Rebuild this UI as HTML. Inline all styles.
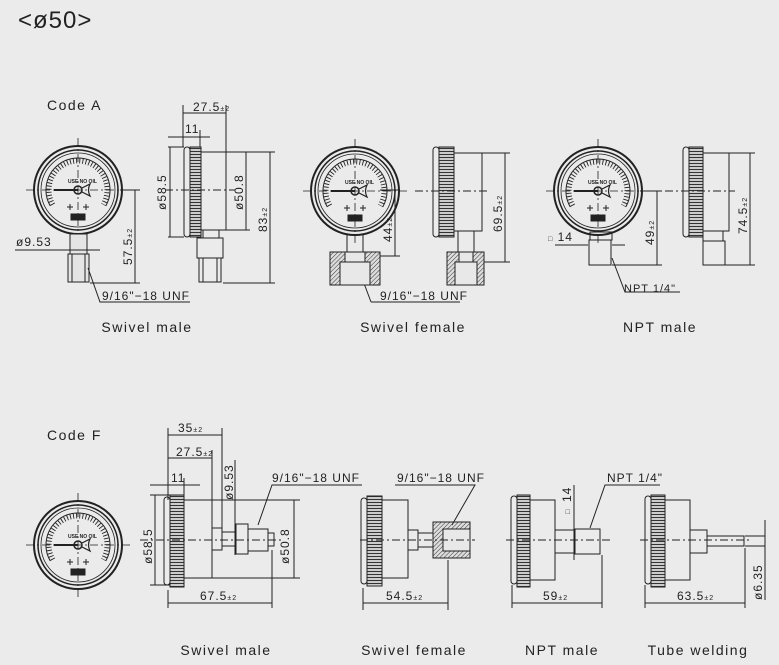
<!DOCTYPE html>
<html><head><meta charset="utf-8"><style>
body{margin:0;background:#ebebeb;}
svg{display:block;font-family:"Liberation Sans",sans-serif;}
text{fill:#222;}
</style></head><body>
<svg width="779" height="665" viewBox="0 0 779 665" xmlns="http://www.w3.org/2000/svg">
<defs>
<pattern id="kn" width="4" height="3" patternUnits="userSpaceOnUse"><rect width="4" height="3" fill="#ddd"/><line x1="0" y1="1.5" x2="4" y2="1.5" stroke="#333" stroke-width="1.2"/></pattern>
<pattern id="ht" width="3" height="3" patternUnits="userSpaceOnUse" patternTransform="rotate(45)"><rect width="3" height="3" fill="#ddd"/><line x1="0" y1="0" x2="0" y2="3" stroke="#333" stroke-width="1"/></pattern>
<g id="face" fill="none" stroke="#222">
<circle r="44" stroke-width="2"/><circle r="40" stroke-width="1.5"/><circle r="37" stroke-width="0.8"/>
<path d="M-25.1,14.5 A29,29 0 1 1 25.1,14.5" stroke-width="5" stroke-dasharray="0.9 2.2"/>
<path d="M-27.7,16 A32,32 0 1 1 27.7,16" stroke-width="1"/>
<line x1="-24" y1="0" x2="0" y2="0" stroke-width="2"/>
<circle r="4" stroke-width="1.5"/><path d="M4,-2 L12,-6 Q9,0 12,6 L4,2" stroke-width="1.2"/>
<path d="M-11,17 h6 M-8,14 v6 M5,17 h6 M8,14 v6" stroke-width="1"/>
<rect x="-7" y="24" width="14" height="6" fill="#222"/>
<line x1="-52" y1="0" x2="52" y2="0" stroke-dasharray="8 3 2 3" stroke-width="0.8"/>
<line x1="0" y1="-52" x2="0" y2="52" stroke-dasharray="8 3 2 3" stroke-width="0.8"/>
</g>
</defs>
<g font-size="14" letter-spacing="1.5">
<text x="18" y="28" font-size="24" fill="#222" letter-spacing="1">&lt;ø50&gt;</text>
<text x="47" y="110">Code A</text>
<text x="47" y="440">Code F</text>
<text x="147" y="332" text-anchor="middle">Swivel male</text>
<text x="413" y="332" text-anchor="middle">Swivel female</text>
<text x="660" y="332" text-anchor="middle">NPT male</text>
<text x="226" y="655" text-anchor="middle">Swivel male</text>
<text x="414" y="655" text-anchor="middle">Swivel female</text>
<text x="562" y="655" text-anchor="middle">NPT male</text>
<text x="698" y="655" text-anchor="middle">Tube welding</text>
</g>
<use href="#face" x="78" y="190"/>
<use href="#face" x="355" y="191"/>
<use href="#face" x="598" y="191"/>
<use href="#face" x="78" y="545"/>
<g font-size="5" font-weight="bold"><text x="68" y="183">USE NO OIL</text><text x="345" y="184">USE NO OIL</text><text x="588" y="184">USE NO OIL</text><text x="68" y="538">USE NO OIL</text></g>
<g fill="none" stroke="#222" stroke-width="1">
<rect x="70" y="234" width="17" height="20" fill="#e5e5e5"/>
<rect x="68" y="254" width="21" height="28" fill="#e5e5e5"/>
<line x1="72" y1="254" x2="72" y2="282"/><line x1="85" y1="254" x2="85" y2="282"/>
<rect x="184" y="147" width="6" height="90" rx="3"/>
<rect x="190" y="147" width="11" height="90" fill="url(#kn)"/>
<rect x="201" y="152" width="25" height="78"/>
<rect x="203" y="230" width="16" height="8"/>
<rect x="197" y="238" width="26" height="20"/>
<rect x="199" y="258" width="22" height="24"/>
<line x1="203" y1="258" x2="203" y2="282"/><line x1="217" y1="258" x2="217" y2="282"/>
<path d="M165,190 H235" stroke-dasharray="8 3 2 3"/>
<path d="M183,105 V147 M226,105 V152 M183,113 H226 M168,137 H210 M200,130 V147 M168,147 H184 M168,237 H184 M170,147 V237 M226,152 H275 M226,230 H250 M246,152 V230 M223,283 H275 M270,152 V283 M120,190 H140 M90,283 H140 M135,190 V283 M15,250 H100 M88,268 L100,302 H190"/>
<path d="M371,302 H460 M359,270 L371,302"/>
<rect x="347" y="235" width="16" height="17"/>
<rect x="330" y="252" width="50" height="33" fill="url(#ht)"/>
<rect x="340" y="262" width="30" height="23" fill="#e8e8e8"/>
<rect x="345" y="252" width="20" height="10" fill="#e8e8e8"/>
<rect x="433" y="147" width="6" height="90" rx="3"/>
<rect x="439" y="147" width="15" height="90" fill="url(#kn)"/>
<rect x="454" y="153" width="28" height="78"/>
<rect x="458" y="231" width="16" height="21"/>
<rect x="447" y="252" width="37" height="33" fill="url(#ht)"/>
<rect x="455" y="262" width="22" height="23" fill="#e8e8e8"/>
<rect x="459" y="252" width="14" height="10" fill="#e8e8e8"/>
<path d="M415,191 H490" stroke-dasharray="8 3 2 3"/>
<path d="M380,256 H400 M395,190 V256 M482,153 H510 M484,262 H510 M505,153 V262 M380,190 H400"/>
<rect x="590" y="232" width="22" height="8"/>
<rect x="589" y="240" width="22" height="25"/>
<path d="M555,245 H588 M612,245 H625 M612,265 H662 M640,191 H662 M657,191 V265 M612,258 L625,292 H680"/>
<rect x="683" y="147" width="6" height="90" rx="3"/>
<rect x="689" y="147" width="14" height="90" fill="url(#kn)"/>
<rect x="703" y="153" width="26" height="78"/>
<rect x="703" y="231" width="20" height="10"/>
<rect x="703" y="241" width="22" height="24"/>
<path d="M665,191 H735" stroke-dasharray="8 3 2 3"/>
<path d="M729,153 H755 M725,265 H755 M750,153 V265" />
<rect x="164" y="497" width="6" height="88" rx="3"/>
<rect x="170" y="495" width="14" height="92" fill="url(#kn)"/>
<rect x="184" y="500" width="28" height="78"/>
<rect x="212" y="528" width="10" height="22"/>
<rect x="222" y="532" width="14" height="14"/>
<rect x="236" y="524" width="12" height="30"/>
<rect x="248" y="529" width="20" height="22"/>
<path d="M268,533 H274 V546 H268"/>
<path d="M140,540 H282" stroke-dasharray="8 3 2 3"/>
<path d="M168,428 V500 M222,428 V528 M168,435 H222 M212,450 V500 M168,458 H212 M150,485 H200 M184,478 V497 M150,495 H170 M150,585 H170 M155,495 V585 M212,500 H300 M212,578 H300 M294,500 V578 M235,460 V555 M168,590 V608 M272,550 V608 M168,603 H272 M258,525 L272,485 H362"/>
<rect x="361" y="498" width="6" height="86" rx="3"/>
<rect x="367" y="496" width="15" height="90" fill="url(#kn)"/>
<rect x="382" y="500" width="26" height="78"/>
<rect x="408" y="530" width="10" height="20"/>
<rect x="418" y="533" width="15" height="14"/>
<rect x="433" y="522" width="37" height="36" fill="url(#ht)"/>
<rect x="443" y="529" width="27" height="22" fill="#e8e8e8"/>
<path d="M360,540 H475" stroke-dasharray="8 3 2 3"/>
<path d="M363,588 V610 M448,560 V610 M363,603 H448 M452,525 L475,485 H395"/>
<rect x="511" y="496" width="6" height="88" rx="3"/>
<rect x="517" y="495" width="13" height="92" fill="url(#kn)"/>
<rect x="530" y="500" width="25" height="80"/>
<rect x="555" y="530" width="20" height="23"/>
<rect x="575" y="529" width="25" height="25"/>
<path d="M506,540 H610" stroke-dasharray="8 3 2 3"/>
<path d="M512,585 V608 M602,555 V608 M512,603 H602 M574,485 V560 M590,528 L605,485 H660"/>
<rect x="645" y="496" width="6" height="88" rx="3"/>
<rect x="651" y="495" width="14" height="92" fill="url(#kn)"/>
<rect x="665" y="500" width="25" height="80"/>
<rect x="690" y="530" width="17" height="23"/>
<rect x="707" y="536" width="37" height="10"/>
<path d="M640,540 H750" stroke-dasharray="8 3 2 3"/>
<path d="M645,585 V608 M745,548 V608 M645,603 H745 M745,536 H765 M745,546 H765 M765,520 V600"/>
</g>
<g font-size="12" letter-spacing="1">
<text x="193" y="111">27.5<tspan font-size="7">±2</tspan></text>
<text x="185" y="133">11</text>
<text transform="translate(166,210) rotate(-90)">ø58.5</text>
<text transform="translate(243,210) rotate(-90)">ø50.8</text>
<text transform="translate(267,232) rotate(-90)">83<tspan font-size="7">±2</tspan></text>
<text transform="translate(132,265) rotate(-90)">57.5<tspan font-size="7">±2</tspan></text>
<text x="16" y="246">ø9.53</text>
<text x="102" y="300">9/16"−18 UNF</text>
<text x="380" y="300">9/16"−18 UNF</text>
<text transform="translate(392,242) rotate(-90)">44<tspan font-size="7">±2</tspan></text>
<text transform="translate(502,232) rotate(-90)">69.5<tspan font-size="7">±2</tspan></text>
<text x="548" y="241"><tspan font-size="7">□</tspan> 14</text>
<text transform="translate(654,245) rotate(-90)">49<tspan font-size="7">±2</tspan></text>
<text transform="translate(747,234) rotate(-90)">74.5<tspan font-size="7">±2</tspan></text>
<text x="624" y="292" font-size="11">NPT 1/4"</text>
<text x="178" y="432">35<tspan font-size="7">±2</tspan></text>
<text x="176" y="456">27.5<tspan font-size="7">±2</tspan></text>
<text x="171" y="482">11</text>
<text transform="translate(233,500) rotate(-90)">ø9.53</text>
<text x="272" y="482">9/16"−18 UNF</text>
<text x="397" y="482">9/16"−18 UNF</text>
<text transform="translate(152,564) rotate(-90)">ø58.5</text>
<text transform="translate(289,564) rotate(-90)">ø50.8</text>
<text x="200" y="600">67.5<tspan font-size="7">±2</tspan></text>
<text x="386" y="600">54.5<tspan font-size="7">±2</tspan></text>
<text x="543" y="600">59<tspan font-size="7">±2</tspan></text>
<text x="677" y="600">63.5<tspan font-size="7">±2</tspan></text>
<text x="607" y="482">NPT 1/4"</text>
<text transform="translate(571,502) rotate(-90)">14</text>
<text transform="translate(570,514) rotate(-90)" font-size="7">□</text>
<text transform="translate(762,600) rotate(-90)">ø6.35</text>
</g>
</svg>
</body></html>
